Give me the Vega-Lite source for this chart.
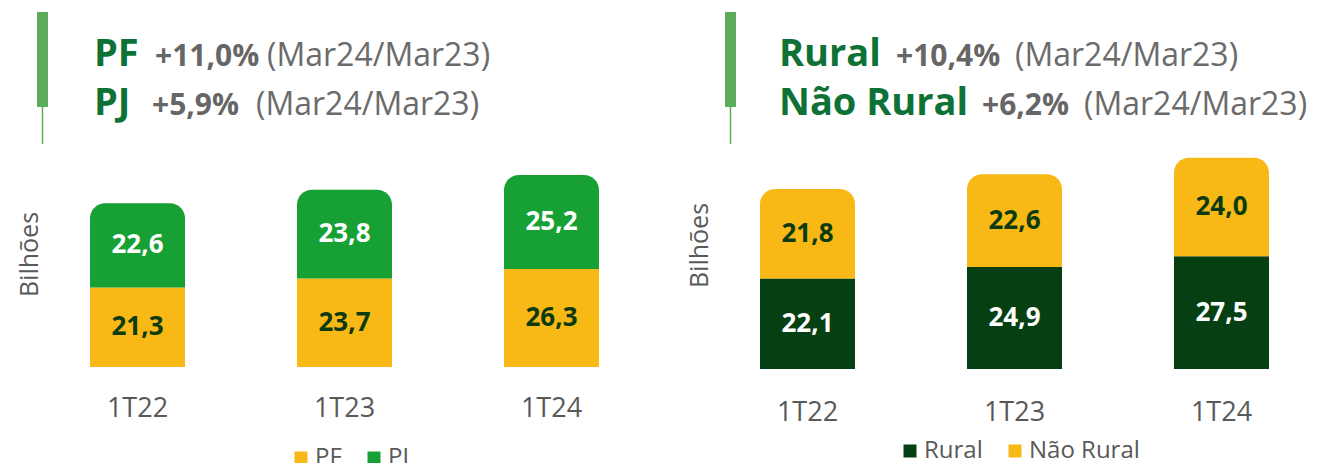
{
  "$schema": "https://vega.github.io/schema/vega-lite/v6.json",
  "padding": {"left": 17, "top": 0, "right": 0, "bottom": 0},
  "background": "white",
  "spacing": 40,
  "datasets": {
    "left": [
      {"cat": "1T22", "series": "PF", "value": 21.3},
      {"cat": "1T22", "series": "PJ", "value": 22.6},
      {"cat": "1T23", "series": "PF", "value": 23.7},
      {"cat": "1T23", "series": "PJ", "value": 23.8},
      {"cat": "1T24", "series": "PF", "value": 26.3},
      {"cat": "1T24", "series": "PJ", "value": 25.2}
    ],
    "right": [
      {"cat": "1T22", "series": "Rural", "value": 22.1},
      {"cat": "1T22", "series": "Não Rural", "value": 21.8},
      {"cat": "1T23", "series": "Rural", "value": 24.9},
      {"cat": "1T23", "series": "Não Rural", "value": 22.6},
      {"cat": "1T24", "series": "Rural", "value": 27.5},
      {"cat": "1T24", "series": "Não Rural", "value": 24.0}
    ]
  },
  "hconcat": [
    {
      "width": 605,
      "height": 367,
      "layer": [
        {
          "data": {"name": "left"},
          "transform": [
            {"stack": "value", "groupby": ["cat"], "sort": [{"field": "series", "order": "ascending"}], "as": ["y0", "y1"]},
            {"filter": "datum.series === 'PF'"}
          ],
          "mark": {"type": "bar"},
          "encoding": {
            "x": {"field": "cat", "type": "nominal", "sort": null, "scale": {"paddingInner": 0.541, "paddingOuter": 0.2319},
                  "axis": {"title": null, "domain": false, "ticks": false, "labelAngle": 0, "labelFontSize": 27, "labelColor": "#595959", "labelFont": "Open Sans", "labelPadding": 28}},
            "y": {"field": "y1", "type": "quantitative", "scale": {"domain": [0, 98.4], "nice": false},
                  "axis": {"title": "Bilhões", "labels": false, "ticks": false, "domain": false, "grid": false, "titleFontSize": 25, "titleColor": "#595959", "titleFont": "Open Sans", "titleFontWeight": "normal", "titlePadding": 0, "titleY": 254}},
            "y2": {"field": "y0"},
            "color": {"field": "series", "type": "nominal", "scale": {"domain": ["PF", "PJ"], "range": ["#F8B816", "#17A033"]},
                      "legend": {"orient": "none", "legendX": 247, "legendY": 446, "direction": "horizontal", "title": null, "symbolType": "square", "symbolSize": 169, "symbolOpacity": 1, "symbolStrokeWidth": 0, "labelFontSize": 24, "labelColor": "#595959", "labelFont": "Open Sans", "columnPadding": 20, "labelOffset": 2, "padding": 0}}
          }
        },
        {
          "data": {"name": "left"},
          "transform": [
            {"stack": "value", "groupby": ["cat"], "sort": [{"field": "series", "order": "ascending"}], "as": ["y0", "y1"]},
            {"filter": "datum.series === 'PJ'"}
          ],
          "mark": {"type": "bar", "cornerRadiusTopLeft": 15, "cornerRadiusTopRight": 15},
          "encoding": {
            "x": {"field": "cat", "type": "nominal", "sort": null, "scale": {"paddingInner": 0.541, "paddingOuter": 0.2319},
                  "axis": {"title": null, "domain": false, "ticks": false, "labelAngle": 0, "labelFontSize": 27, "labelColor": "#595959", "labelFont": "Open Sans", "labelPadding": 28}},
            "y": {"field": "y1", "type": "quantitative", "scale": {"domain": [0, 98.4], "nice": false},
                  "axis": {"title": "Bilhões", "labels": false, "ticks": false, "domain": false, "grid": false, "titleFontSize": 25, "titleColor": "#595959", "titleFont": "Open Sans", "titleFontWeight": "normal", "titlePadding": 0, "titleY": 254}},
            "y2": {"field": "y0"},
            "color": {"field": "series", "type": "nominal", "scale": {"domain": ["PF", "PJ"], "range": ["#F8B816", "#17A033"]},
                      "legend": {"orient": "none", "legendX": 247, "legendY": 446, "direction": "horizontal", "title": null, "symbolType": "square", "symbolSize": 169, "symbolOpacity": 1, "symbolStrokeWidth": 0, "labelFontSize": 24, "labelColor": "#595959", "labelFont": "Open Sans", "columnPadding": 20, "labelOffset": 2, "padding": 0}}
          }
        },
        {
          "data": {"name": "left"},
          "transform": [
            {"stack": "value", "groupby": ["cat"], "sort": [{"field": "series", "order": "ascending"}], "as": ["y0", "y1"]},
            {"fold": ["y0", "y1"], "as": ["k", "v"]}
          ],
          "mark": {"type": "text", "font": "Open Sans", "fontSize": 26, "fontWeight": "bold", "baseline": "middle", "align": "center"},
          "encoding": {
            "x": {"field": "cat", "type": "nominal", "sort": null, "scale": {"paddingInner": 0.541, "paddingOuter": 0.2319},
                  "axis": {"title": null, "domain": false, "ticks": false, "labelAngle": 0, "labelFontSize": 27, "labelColor": "#595959", "labelFont": "Open Sans", "labelPadding": 28}},
            "y": {"aggregate": "mean", "field": "v", "type": "quantitative", "stack": null, "scale": {"domain": [0, 98.4], "nice": false},
                  "axis": {"title": "Bilhões", "labels": false, "ticks": false, "domain": false, "grid": false, "titleFontSize": 25, "titleColor": "#595959", "titleFont": "Open Sans", "titleFontWeight": "normal", "titlePadding": 0, "titleY": 254}},
            "detail": {"field": "series", "type": "nominal"},
            "text": {"field": "value", "type": "quantitative", "format": ".1f"},
            "color": {"condition": {"test": "datum.series === 'PJ'", "value": "#ffffff"}, "value": "#0C3B10"}
          }
        },
        {"data": {"values": [{}]}, "mark": {"type": "rect", "color": "#5BAD5B"}, "encoding": {"x": {"value": -5}, "x2": {"value": 6}, "y": {"value": 12}, "y2": {"value": 107}}},
        {"data": {"values": [{}]}, "mark": {"type": "rule", "color": "#5BAD5B", "strokeWidth": 1.5}, "encoding": {"x": {"value": 0.5}, "y": {"value": 107}, "y2": {"value": 144}}},
        {"data": {"values": [{}]}, "mark": {"type": "text", "text": "PF", "font": "Open Sans", "fontSize": 38, "fontWeight": "bold", "color": "#0E7136", "align": "left", "baseline": "alphabetic"}, "encoding": {"x": {"value": 52}, "y": {"value": 66}}},
        {"data": {"values": [{}]}, "mark": {"type": "text", "text": "+11,0%", "font": "Open Sans", "fontSize": 30, "fontWeight": "bold", "color": "#666666", "align": "left", "baseline": "alphabetic"}, "encoding": {"x": {"value": 113}, "y": {"value": 66}}},
        {"data": {"values": [{}]}, "mark": {"type": "text", "text": "(Mar24/Mar23)", "font": "Open Sans", "fontSize": 32, "color": "#6B6B6B", "align": "left", "baseline": "alphabetic"}, "encoding": {"x": {"value": 225}, "y": {"value": 66}}},
        {"data": {"values": [{}]}, "mark": {"type": "text", "text": "PJ", "font": "Open Sans", "fontSize": 38, "fontWeight": "bold", "color": "#0E7136", "align": "left", "baseline": "alphabetic"}, "encoding": {"x": {"value": 52}, "y": {"value": 115}}},
        {"data": {"values": [{}]}, "mark": {"type": "text", "text": "+5,9%", "font": "Open Sans", "fontSize": 30, "fontWeight": "bold", "color": "#666666", "align": "left", "baseline": "alphabetic"}, "encoding": {"x": {"value": 110}, "y": {"value": 115}}},
        {"data": {"values": [{}]}, "mark": {"type": "text", "text": "(Mar24/Mar23)", "font": "Open Sans", "fontSize": 32, "color": "#6B6B6B", "align": "left", "baseline": "alphabetic"}, "encoding": {"x": {"value": 214}, "y": {"value": 115}}}
      ]
    },
    {
      "width": 605,
      "height": 369,
      "layer": [
        {
          "data": {"name": "right"},
          "transform": [
            {"stack": "value", "groupby": ["cat"], "sort": [{"field": "series", "order": "descending"}], "as": ["y0", "y1"]},
            {"filter": "datum.series === 'Rural'"}
          ],
          "mark": {"type": "bar"},
          "encoding": {
            "x": {"field": "cat", "type": "nominal", "sort": null, "scale": {"paddingInner": 0.541, "paddingOuter": 0.2319},
                  "axis": {"title": null, "domain": false, "ticks": false, "labelAngle": 0, "labelFontSize": 27, "labelColor": "#595959", "labelFont": "Open Sans", "labelPadding": 30}},
            "y": {"field": "y1", "type": "quantitative", "scale": {"domain": [0, 90], "nice": false},
                  "axis": {"title": "Bilhões", "labels": false, "ticks": false, "domain": false, "grid": false, "titleFontSize": 25, "titleColor": "#595959", "titleFont": "Open Sans", "titleFontWeight": "normal", "titlePadding": 0, "titleY": 245}},
            "y2": {"field": "y0"},
            "color": {"field": "series", "type": "nominal", "scale": {"domain": ["Rural", "Não Rural"], "range": ["#053F12", "#F8B816"]},
                      "legend": {"orient": "none", "legendX": 186, "legendY": 439, "direction": "horizontal", "title": null, "symbolType": "square", "symbolSize": 169, "symbolOpacity": 1, "symbolStrokeWidth": 0, "labelFontSize": 24, "labelColor": "#595959", "labelFont": "Open Sans", "columnPadding": 20, "labelOffset": 2, "padding": 0}}
          }
        },
        {
          "data": {"name": "right"},
          "transform": [
            {"stack": "value", "groupby": ["cat"], "sort": [{"field": "series", "order": "descending"}], "as": ["y0", "y1"]},
            {"filter": "datum.series === 'Não Rural'"}
          ],
          "mark": {"type": "bar", "cornerRadiusTopLeft": 15, "cornerRadiusTopRight": 15},
          "encoding": {
            "x": {"field": "cat", "type": "nominal", "sort": null, "scale": {"paddingInner": 0.541, "paddingOuter": 0.2319},
                  "axis": {"title": null, "domain": false, "ticks": false, "labelAngle": 0, "labelFontSize": 27, "labelColor": "#595959", "labelFont": "Open Sans", "labelPadding": 30}},
            "y": {"field": "y1", "type": "quantitative", "scale": {"domain": [0, 90], "nice": false},
                  "axis": {"title": "Bilhões", "labels": false, "ticks": false, "domain": false, "grid": false, "titleFontSize": 25, "titleColor": "#595959", "titleFont": "Open Sans", "titleFontWeight": "normal", "titlePadding": 0, "titleY": 245}},
            "y2": {"field": "y0"},
            "color": {"field": "series", "type": "nominal", "scale": {"domain": ["Rural", "Não Rural"], "range": ["#053F12", "#F8B816"]},
                      "legend": {"orient": "none", "legendX": 186, "legendY": 439, "direction": "horizontal", "title": null, "symbolType": "square", "symbolSize": 169, "symbolOpacity": 1, "symbolStrokeWidth": 0, "labelFontSize": 24, "labelColor": "#595959", "labelFont": "Open Sans", "columnPadding": 20, "labelOffset": 2, "padding": 0}}
          }
        },
        {
          "data": {"name": "right"},
          "transform": [
            {"stack": "value", "groupby": ["cat"], "sort": [{"field": "series", "order": "descending"}], "as": ["y0", "y1"]},
            {"fold": ["y0", "y1"], "as": ["k", "v"]}
          ],
          "mark": {"type": "text", "font": "Open Sans", "fontSize": 26, "fontWeight": "bold", "baseline": "middle", "align": "center"},
          "encoding": {
            "x": {"field": "cat", "type": "nominal", "sort": null, "scale": {"paddingInner": 0.541, "paddingOuter": 0.2319},
                  "axis": {"title": null, "domain": false, "ticks": false, "labelAngle": 0, "labelFontSize": 27, "labelColor": "#595959", "labelFont": "Open Sans", "labelPadding": 30}},
            "y": {"aggregate": "mean", "field": "v", "type": "quantitative", "stack": null, "scale": {"domain": [0, 90], "nice": false},
                  "axis": {"title": "Bilhões", "labels": false, "ticks": false, "domain": false, "grid": false, "titleFontSize": 25, "titleColor": "#595959", "titleFont": "Open Sans", "titleFontWeight": "normal", "titlePadding": 0, "titleY": 245}},
            "detail": {"field": "series", "type": "nominal"},
            "text": {"field": "value", "type": "quantitative", "format": ".1f"},
            "color": {"condition": {"test": "datum.series === 'Rural'", "value": "#ffffff"}, "value": "#0C3B10"}
          }
        },
        {"data": {"values": [{}]}, "mark": {"type": "rect", "color": "#5BAD5B"}, "encoding": {"x": {"value": 13}, "x2": {"value": 24}, "y": {"value": 12}, "y2": {"value": 107}}},
        {"data": {"values": [{}]}, "mark": {"type": "rule", "color": "#5BAD5B", "strokeWidth": 1.5}, "encoding": {"x": {"value": 18.5}, "y": {"value": 107}, "y2": {"value": 144}}},
        {"data": {"values": [{}]}, "mark": {"type": "text", "text": "Rural", "font": "Open Sans", "fontSize": 38, "fontWeight": "bold", "color": "#0E7136", "align": "left", "baseline": "alphabetic"}, "encoding": {"x": {"value": 67}, "y": {"value": 66}}},
        {"data": {"values": [{}]}, "mark": {"type": "text", "text": "+10,4%", "font": "Open Sans", "fontSize": 30, "fontWeight": "bold", "color": "#666666", "align": "left", "baseline": "alphabetic"}, "encoding": {"x": {"value": 184}, "y": {"value": 66}}},
        {"data": {"values": [{}]}, "mark": {"type": "text", "text": "(Mar24/Mar23)", "font": "Open Sans", "fontSize": 32, "color": "#6B6B6B", "align": "left", "baseline": "alphabetic"}, "encoding": {"x": {"value": 303}, "y": {"value": 66}}},
        {"data": {"values": [{}]}, "mark": {"type": "text", "text": "Não Rural", "font": "Open Sans", "fontSize": 38, "fontWeight": "bold", "color": "#0E7136", "align": "left", "baseline": "alphabetic"}, "encoding": {"x": {"value": 67}, "y": {"value": 115}}},
        {"data": {"values": [{}]}, "mark": {"type": "text", "text": "+6,2%", "font": "Open Sans", "fontSize": 30, "fontWeight": "bold", "color": "#666666", "align": "left", "baseline": "alphabetic"}, "encoding": {"x": {"value": 270}, "y": {"value": 115}}},
        {"data": {"values": [{}]}, "mark": {"type": "text", "text": "(Mar24/Mar23)", "font": "Open Sans", "fontSize": 32, "color": "#6B6B6B", "align": "left", "baseline": "alphabetic"}, "encoding": {"x": {"value": 372}, "y": {"value": 115}}}
      ]
    }
  ],
  "resolve": {"scale": {"color": "independent", "x": "independent", "y": "independent"}, "legend": {"color": "independent"}},
  "config": {
    "view": {"stroke": null},
    "axis": {"grid": false},
    "locale": {"number": {"decimal": ",", "thousands": ".", "grouping": [3], "currency": ["R$", ""]}}
  }
}
